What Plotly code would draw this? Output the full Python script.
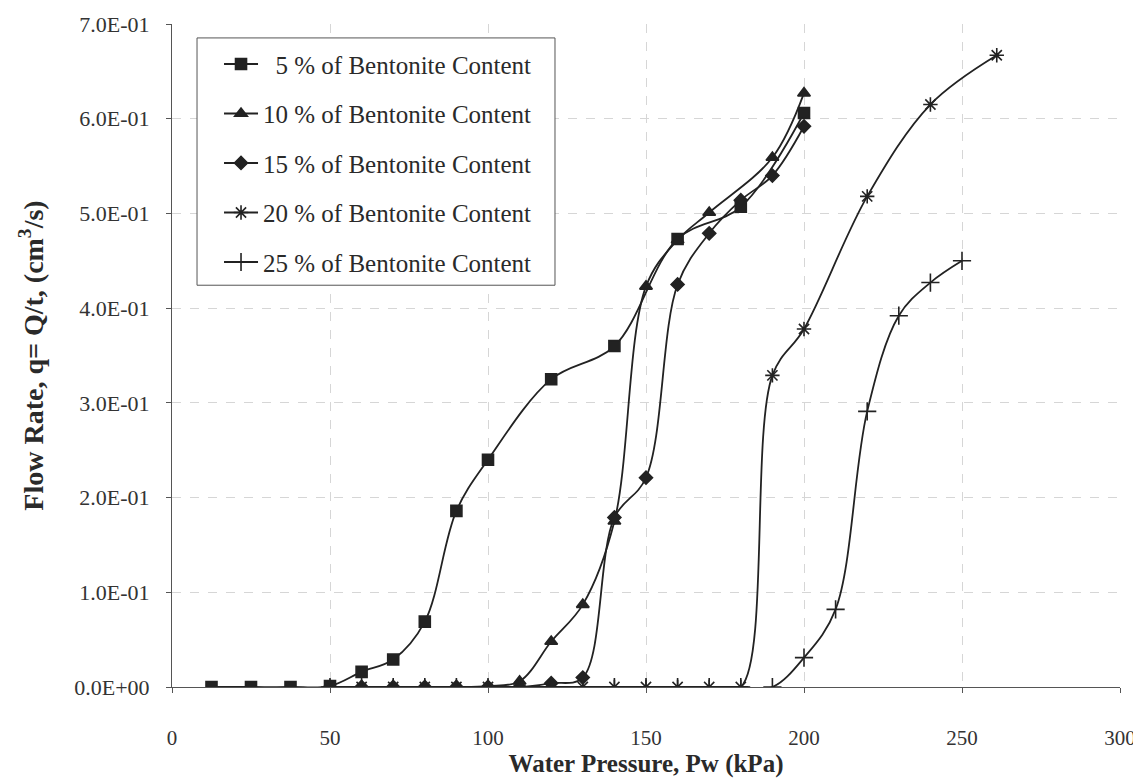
import plotly.graph_objects as go

# ---- data ----
series_names = [
    "\u20075 % of Bentonite Content",
    "10 % of Bentonite Content",
    "15 % of Bentonite Content",
    "20 % of Bentonite Content",
    "25 % of Bentonite Content",
]

pw_5 = [12.5, 25, 37.5, 50, 60, 70, 80, 90, 100, 120, 140, 160, 180, 200]
q_5 = [0.0, 0.0, 0.0, 0.001, 0.016, 0.029, 0.069, 0.186, 0.240, 0.325, 0.360, 0.473, 0.507, 0.606]

pw_10 = [50, 60, 70, 80, 90, 100, 110, 120, 130, 140, 150, 160, 170, 190, 200]
q_10 = [0.0, 0.0, 0.0, 0.0, 0.0, 0.001, 0.006, 0.048, 0.087, 0.175, 0.423, 0.472, 0.501, 0.559, 0.627]

pw_15 = [50, 60, 70, 80, 90, 100, 110, 120, 130, 140, 150, 160, 170, 180, 190, 200]
q_15 = [0.0, 0.0, 0.0, 0.0, 0.0, 0.0, 0.0, 0.004, 0.010, 0.179, 0.221, 0.425, 0.479, 0.514, 0.540, 0.592]

pw_20 = [50, 60, 70, 80, 90, 100, 110, 120, 130, 140, 150, 160, 170, 180, 190, 200, 220, 240, 261]
q_20 = [0.0, 0.0, 0.0, 0.0, 0.0, 0.0, 0.0, 0.0, 0.0, 0.0, 0.0, 0.0, 0.0, 0.0, 0.329, 0.378, 0.518, 0.615, 0.667]

pw_25 = [50, 60, 70, 80, 90, 100, 110, 120, 130, 140, 150, 160, 170, 180, 190, 200, 210, 220, 230, 240, 250]
q_25 = [0.0, 0.0, 0.0, 0.0, 0.0, 0.0, 0.0, 0.0, 0.0, 0.0, 0.0, 0.0, 0.0, 0.0, 0.0, 0.031, 0.082, 0.291, 0.392, 0.427, 0.450]

y_tickvals = [0.0, 0.1, 0.2, 0.3, 0.4, 0.5, 0.6, 0.7]
y_ticktext = ["0.0E+00", "1.0E-01", "2.0E-01", "3.0E-01", "4.0E-01", "5.0E-01", "6.0E-01", "7.0E-01"]
x_tickvals = [0, 50, 100, 150, 200, 250, 300]

xs = [pw_5, pw_10, pw_15, pw_20, pw_25]
ys = [q_5, q_10, q_15, q_20, q_25]
symbols = ["square", "triangle-up", "diamond", "asterisk-open", "cross-thin-open"]
sizes = [11, 11, 10, 12, 13]

INK = "#222222"
SERIF = "Liberation Serif, Times New Roman, serif"

fig = go.Figure()
for i in range(5):
    fig.add_trace(go.Scatter(
        x=xs[i], y=ys[i], name=series_names[i],
        mode="lines+markers",
        line=dict(color=INK, width=1.8, shape="spline", smoothing=1.0),
        marker=dict(symbol=symbols[i], size=sizes[i], color=INK,
                    line=dict(color=INK, width=1.6)),
        legendgroup="g%d" % i,
    ))

# legend frame drawn as a shape (wider than plotly's own legend box)
fig.add_shape(type="rect", xref="paper", yref="paper",
              x0=0.0264, x1=0.404, y0=0.606, y1=0.979,
              line=dict(color="#555555", width=1), fillcolor="white", layer="above")

fig.update_layout(
    width=1133, height=770,
    paper_bgcolor="white", plot_bgcolor="white",
    margin=dict(l=164, r=21, t=16, b=91),
    font=dict(family=SERIF, color="#333333", size=22),
    showlegend=True,
    legend=dict(
        x=0.0496, y=0.974, xanchor="left", yanchor="top",
        bgcolor="rgba(0,0,0,0)", borderwidth=0,
        font=dict(family=SERIF, size=25, color="#2a2a2a"),
        itemwidth=34, tracegroupgap=14, traceorder="grouped",
    ),
    xaxis=dict(
        range=[0, 300], tickvals=x_tickvals, automargin=False,
        showgrid=True, gridcolor="#d6d6d6", griddash="dash", gridwidth=1,
        zeroline=False, showline=True, linecolor="#555555", linewidth=1,
        ticks="outside", ticklen=5, tickcolor="#555555",
        ticklabelstandoff=27,
        tickfont=dict(family=SERIF, size=21, color="#333333"),
        title=dict(text="<b>Water Pressure, Pw (kPa)</b>",
                   font=dict(family=SERIF, size=25, color="#2a2a2a"), standoff=10),
    ),
    yaxis=dict(
        range=[0, 0.7], tickvals=y_tickvals, ticktext=y_ticktext, automargin=False,
        showgrid=True, gridcolor="#d6d6d6", griddash="dash", gridwidth=1,
        zeroline=False, showline=True, linecolor="#555555", linewidth=1,
        ticks="outside", ticklen=5, tickcolor="#555555",
        ticklabelstandoff=12,
        tickfont=dict(family=SERIF, size=22, color="#333333"),
        title=dict(text="<b>Flow Rate, q= Q/t, (cm<sup>3</sup>/s)</b>",
                   font=dict(family=SERIF, size=28, color="#2a2a2a"), standoff=22),
    ),
)

fig.write_html("out.html")
